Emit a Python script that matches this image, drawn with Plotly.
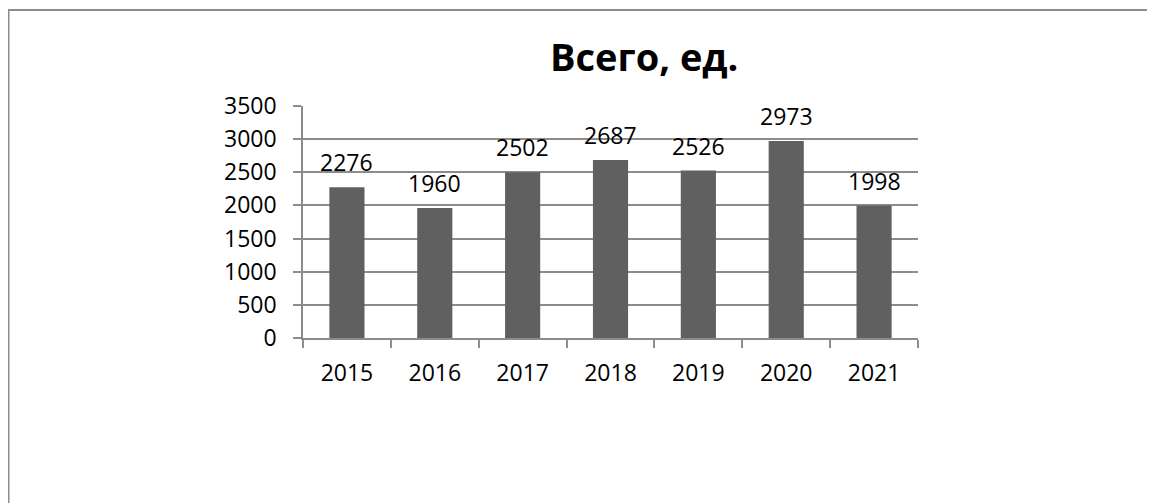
import plotly.graph_objects as go

years = ["2015", "2016", "2017", "2018", "2019", "2020", "2021"]
totals = [2276, 1960, 2502, 2687, 2526, 2973, 1998]
y_ticks = [0, 500, 1000, 1500, 2000, 2500, 3000, 3500]
title_text = "Всего, ед."

W, H = 1155, 503
# plot-area edges in figure pixels (page adds an 8px body margin)
L, R, T, B = 295, 910, 97.7, 330.0

fig = go.Figure()
fig.add_trace(go.Bar(
    x=years, y=totals, marker=dict(color="#606060", line=dict(width=0)),
    width=0.4, hoverinfo="x+y",
))

for i, v in enumerate(totals):
    fig.add_annotation(x=i, y=v, text=str(v), showarrow=False,
                       yanchor="middle", yshift=25,
                       font=dict(family="Open Sans", size=23, color="#000000"))

pw, ph = R - L, B - T
def px_x(p):
    return (p - L) / pw
def px_y(p):
    return (B - p) / ph

# chart-area border (left and top visible)
fig.add_shape(type="line", xref="paper", yref="paper",
              x0=px_x(0.5), x1=px_x(0.5), y0=px_y(1), y1=px_y(H + 20),
              line=dict(color="#8c8c8c", width=2))
fig.add_shape(type="line", xref="paper", yref="paper",
              x0=px_x(0), x1=px_x(W + 20), y0=px_y(1.5), y1=px_y(1.5),
              line=dict(color="#8c8c8c", width=2))

fig.add_annotation(xref="paper", yref="paper", x=px_x(636), y=px_y(48),
                   text="<b>" + title_text + "</b>", showarrow=False,
                   xanchor="center", yanchor="middle",
                   font=dict(family="Open Sans", size=38, color="#000000"))

fig.update_layout(
    width=W, height=H,
    margin=dict(l=L, r=W - R, t=T, b=H - B, pad=0),
    paper_bgcolor="white", plot_bgcolor="white",
    showlegend=False,
    font=dict(family="Open Sans", size=23, color="#000000"),
)
fig.update_xaxes(
    type="category", showline=True, linecolor="#8c8c8c", linewidth=1.5,
    ticks="outside", ticklen=8, tickcolor="#8c8c8c", tickwidth=1.5,
    tickson="boundaries", showgrid=False, ticklabelstandoff=14, tickangle=0,
    tickfont=dict(family="Open Sans", size=23, color="#000000"),
)
fig.update_yaxes(
    range=[0, 3500], tickvals=y_ticks, showline=True, linecolor="#8c8c8c",
    linewidth=1.5, ticks="outside", ticklen=8, tickcolor="#8c8c8c", tickwidth=1.5,
    showgrid=True, gridcolor="#8c8c8c", gridwidth=1.5, zeroline=False,
    ticklabelstandoff=12,
    tickfont=dict(family="Open Sans", size=23, color="#000000"),
)

fig.write_html("out.html")
